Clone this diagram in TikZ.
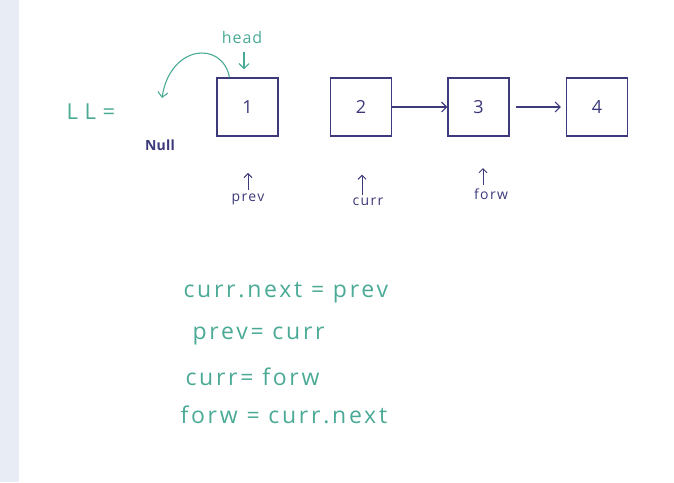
\documentclass[tikz,border=0pt]{standalone}
\usepackage{fontspec}
\setmainfont{Open Sans}
\usetikzlibrary{arrows.meta,positioning}
\definecolor{inkgreen}{RGB}{74,170,150}
\definecolor{inknavy}{RGB}{60,58,122}
\definecolor{sidebar}{RGB}{232,236,245}
\tikzset{
  cell/.style={draw=inknavy, line width=1.4pt, minimum width=61pt, minimum height=58pt,
               inner sep=0pt, font=\fontsize{18}{18}\selectfont, text=inknavy},
  link/.style={-{Straight Barb[length=5pt]}, inknavy, line width=1.1pt},
  ptr/.style={-{Straight Barb[length=4pt]}, inknavy, line width=1pt},
  plab/.style={font=\fontsize{14}{14}\selectfont\addfontfeature{LetterSpace=10}, text=inknavy},
  glab/.style={font=\fontsize{16}{16}\selectfont\addfontfeature{LetterSpace=6}, text=inkgreen},
  gline/.style={-{Straight Barb[length=5pt]}, inkgreen, line width=1.1pt},
  code/.style={anchor=west, font=\fontsize{23}{23}\selectfont\addfontfeature{LetterSpace=12}, text=inkgreen},
}

\begin{document}
\begin{tikzpicture}[x=1pt, y=-1pt]
    \fill[sidebar] (0,0) rectangle (19,482);
    \useasboundingbox (0,0) rectangle (674,482);
    % list cells
    \node[cell] (n1) at (247.5,107) {1};
    \node[cell] (n2) at (361,107) {2};
    \node[cell] (n3) at (478.5,107) {3};
    \node[cell] (n4) at (597,107) {4};
    \draw[link] (n2.east) -- (n3.west);
    \draw[link] ([xshift=6pt]n3.east) -- ([xshift=-5pt]n4.west);
    % head and the reversed link
    \node[glab, font=\fontsize{22}{22}\selectfont\addfontfeature{LetterSpace=30}] (ll) at (91,112) {LL=};
    \node[glab] (head) at (242,37) {head};
    \draw[gline] ([xshift=2pt,yshift=-5pt]head.south) -- ([xshift=-3.5pt,yshift=8pt]n1.north);
    \node[plab, font=\fontsize{14}{14}\selectfont\addfontfeature{LetterSpace=2}\bfseries] (null) at (160,145) {Null};
    \coordinate (nullend) at (162,98);
    \draw[gline] ([xshift=-18pt]n1.north) .. controls (222,40) and (170,45) .. (nullend);
    % pointers
    \node[plab] (prev) at (248,199) {prev};
    \node[plab] (curr) at (368,202) {curr};
    \node[plab] (forw) at (491,194) {forw};
    \draw[ptr] (prev.north) -- ++(0,-17);
    \draw[ptr] (curr.north) ++(-6,0) -- ++(0,-20);
    \draw[ptr] (forw.north) ++(-8,0) -- ++(0,-17);
    % steps
    \node[code] (s1) at (180,293) {curr.next = prev};
    \node[code] (s2) at (189,336) {prev= curr};
    \node[code] (s3) at (182,377) {curr= forw};
    \node[code] (s4) at (177,415) {forw = curr.next};
\end{tikzpicture}
\end{document}
